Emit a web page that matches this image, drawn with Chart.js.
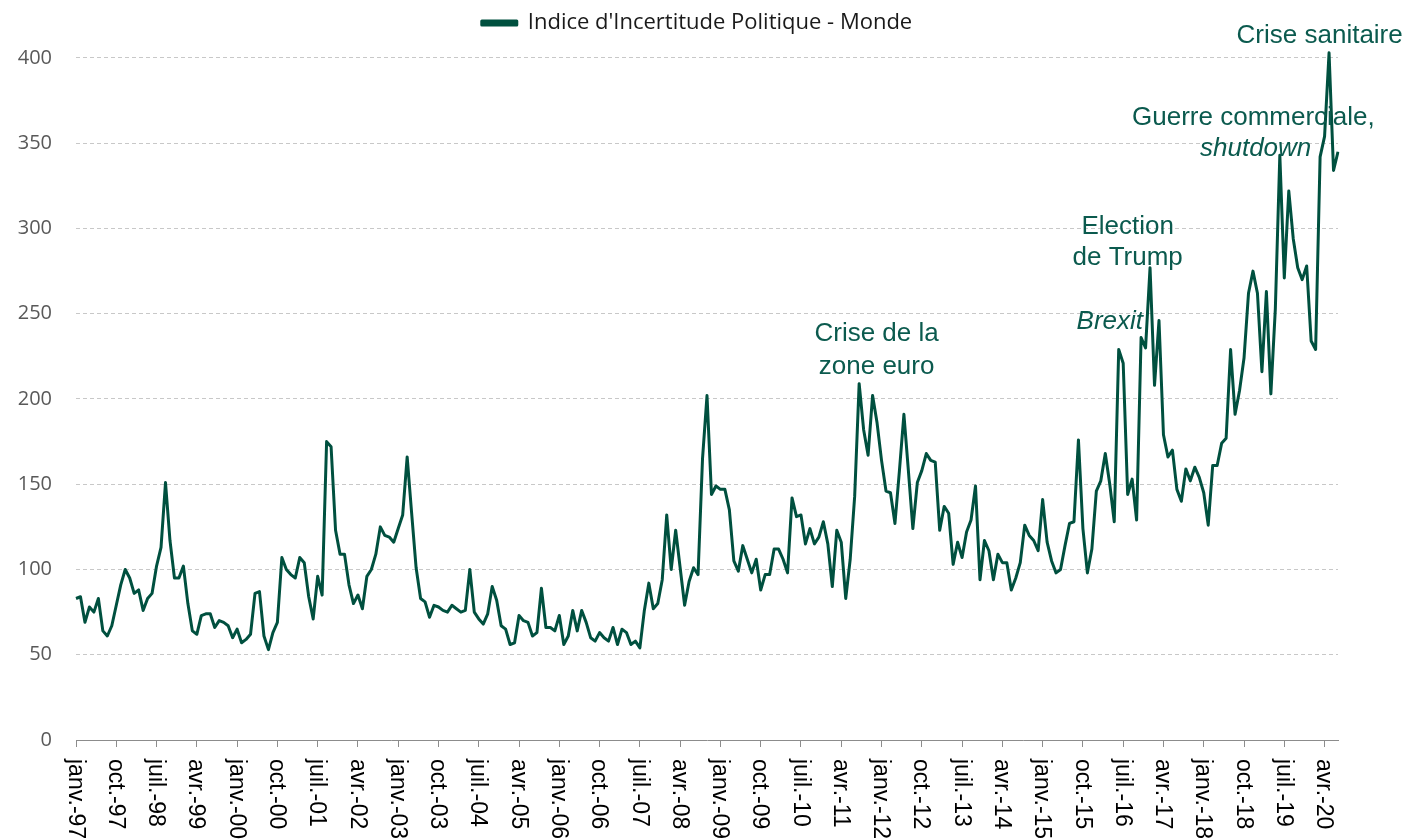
<!DOCTYPE html>
<html lang="fr">
<head>
<meta charset="utf-8">
<title>Indice d'Incertitude Politique - Monde</title>
<script src="https://cdn.jsdelivr.net/npm/chart.js@4.4.1/dist/chart.umd.min.js"></script>
<style>
  html, body { margin: 0; padding: 0; background: #fff; }
  #cadre { width: 1410px; height: 840px; }
</style>
</head>
<body>
<div id="cadre"><canvas id="graphique"></canvas></div>
<script>
const mois = ['janv.', 'févr.', 'mars', 'avr.', 'mai', 'juin', 'juil.', 'août', 'sept.', 'oct.', 'nov.', 'déc.'];
const annees = ['97', '98', '99', '00', '01', '02', '03', '04', '05', '06', '07', '08',
  '09', '10', '11', '12', '13', '14', '15', '16', '17', '18', '19', '20'];

// une ligne par année, de janv.-97 à juil.-20
const incertitude = [
  83, 84, 69, 78, 75, 83, 64, 61, 67, 79, 91, 100,
  95, 86, 88, 76, 83, 86, 102, 113, 151, 117, 95, 95,
  102, 80, 64, 62, 73, 74, 74, 66, 70, 69, 67, 60,
  65, 57, 59, 62, 86, 87, 61, 53, 63, 69, 107, 100,
  97, 95, 107, 104, 84, 71, 96, 85, 175, 172, 123, 109,
  109, 91, 80, 85, 77, 96, 100, 109, 125, 120, 119, 116,
  124, 132, 166, 133, 101, 83, 81, 72, 79, 78, 76, 75,
  79, 77, 75, 76, 100, 75, 71, 68, 74, 90, 82, 67,
  65, 56, 57, 73, 70, 69, 61, 63, 89, 66, 66, 64,
  73, 56, 61, 76, 64, 76, 69, 60, 58, 63, 60, 58,
  66, 56, 65, 63, 56, 58, 54, 76, 92, 77, 80, 94,
  132, 100, 123, 101, 79, 93, 101, 97, 165, 202, 144, 149,
  147, 147, 135, 105, 99, 114, 106, 98, 106, 88, 97, 97,
  112, 112, 106, 98, 142, 131, 132, 115, 124, 115, 119, 128,
  115, 90, 123, 116, 83, 106, 143, 209, 182, 167, 202, 186,
  164, 146, 145, 127, 158, 191, 158, 124, 151, 158, 168, 164,
  163, 123, 137, 133, 103, 116, 107, 122, 129, 149, 94, 117,
  111, 94, 109, 104, 104, 88, 95, 104, 126, 120, 117, 111,
  141, 116, 105, 98, 100, 114, 127, 128, 176, 124, 98, 112,
  146, 152, 168, 150, 128, 229, 221, 144, 153, 129, 236, 230,
  277, 208, 246, 179, 166, 170, 147, 140, 159, 152, 160, 154,
  145, 126, 161, 161, 174, 177, 229, 191, 205, 224, 262, 275,
  262, 216, 263, 203, 253, 343, 271, 322, 294, 277, 270, 278,
  234, 229, 342, 354, 403, 334, 345
];

const etiquettesX = ['janv.-97', 'oct.-97', 'juil.-98', 'avr.-99', 'janv.-00', 'oct.-00', 'juil.-01', 'avr.-02',
  'janv.-03', 'oct.-03', 'juil.-04', 'avr.-05', 'janv.-06', 'oct.-06', 'juil.-07', 'avr.-08',
  'janv.-09', 'oct.-09', 'juil.-10', 'avr.-11', 'janv.-12', 'oct.-12', 'juil.-13', 'avr.-14',
  'janv.-15', 'oct.-15', 'juil.-16', 'avr.-17', 'janv.-18', 'oct.-18', 'juil.-19', 'avr.-20'];

// annotations : texte, position en mois (index) et en valeur
const notes = [
  { texte: 'Crise sanitaire', i: 277.9, v: 413, italique: false },
  { texte: 'Guerre commerciale,', i: 263.1, v: 365, italique: false },
  { texte: 'shutdown', i: 263.6, v: 346.5, italique: true },
  { texte: 'Election', i: 235, v: 301, italique: false },
  { texte: 'de Trump', i: 235, v: 283, italique: false },
  { texte: 'Brexit', i: 231, v: 245, italique: true },
  { texte: 'Crise de la', i: 178.9, v: 238.5, italique: false },
  { texte: 'zone euro', i: 178.9, v: 219, italique: false }
];

const categories = [];
annees.forEach(a => mois.forEach(m => categories.push(m + '-' + a)));
categories.length = incertitude.length;

const vert = '#00503f';

const axeDates = {
  id: 'axeDates',
  afterDraw(chart) {
    const { ctx, chartArea } = chart;
    const x = chart.scales.x;
    ctx.save();
    ctx.font = '23px "Liberation Sans", Arial, sans-serif';
    ctx.fillStyle = '#000';
    ctx.textAlign = 'left';
    ctx.textBaseline = 'middle';
    etiquettesX.forEach(t => {
      const px = x.getPixelForValue(categories.indexOf(t));
      ctx.save();
      ctx.translate(px - 1, chartArea.bottom + 19);
      ctx.rotate(Math.PI / 2);
      ctx.fillText(t, 0, 0);
      ctx.restore();
    });
    ctx.restore();
  }
};

const annotations = {
  id: 'annotations',
  afterDraw(chart) {
    const { ctx } = chart;
    const x = chart.scales.x, y = chart.scales.y;
    ctx.save();
    ctx.fillStyle = '#0b5a4e';
    ctx.textAlign = 'center';
    ctx.textBaseline = 'middle';
    notes.forEach(n => {
      ctx.font = (n.italique ? 'italic ' : '') + '26px "Liberation Sans", Arial, sans-serif';
      ctx.fillText(n.texte, x.getPixelForValue(n.i), y.getPixelForValue(n.v));
    });
    ctx.restore();
  }
};

new Chart(document.getElementById('graphique'), {
  type: 'line',
  data: {
    labels: categories,
    datasets: [{
      label: "Indice d'Incertitude Politique - Monde",
      data: incertitude,
      borderColor: vert,
      backgroundColor: vert,
      borderWidth: 3,
      borderJoinStyle: 'round',
      pointRadius: 0,
      tension: 0
    }]
  },
  options: {
    responsive: true,
    maintainAspectRatio: false,
    animation: false,
    layout: { padding: { top: 0, left: 0, right: 16, bottom: 0 } },
    plugins: {
      legend: {
        position: 'top',
        labels: {
          boxWidth: 35,
          boxHeight: 4,
          padding: 10,
          color: '#1a1a1a',
          font: { family: '"Open Sans", sans-serif', size: 22 }
        }
      },
      tooltip: { enabled: false }
    },
    scales: {
      x: {
        ticks: { display: false, autoSkip: false },
        grid: {
          drawOnChartArea: false,
          drawTicks: true,
          tickLength: 7,
          color: c => etiquettesX.includes(categories[c.index]) ? '#8c8c8c' : 'rgba(0,0,0,0)'
        },
        border: { display: true, color: '#8c8c8c', width: 1 },
        afterFit(s) { s.height = 100; s.paddingRight = 72; s.paddingLeft = 0; }
      },
      y: {
        min: 0,
        max: 408.2,
        ticks: {
          stepSize: 50,
          includeBounds: false,
          padding: 24,
          color: '#595959',
          font: { family: '"Open Sans", sans-serif', size: 20 }
        },
        grid: {
          drawTicks: false,
          color: c => c.tick.value === 0 ? 'rgba(0,0,0,0)' : '#c8c8c8'
        },
        border: { display: false, dash: [4, 3] },
        afterFit(s) { s.width = 76; s.paddingTop = 44; }
      }
    }
  },
  plugins: [axeDates, annotations]
});
</script>
</body>
</html>
